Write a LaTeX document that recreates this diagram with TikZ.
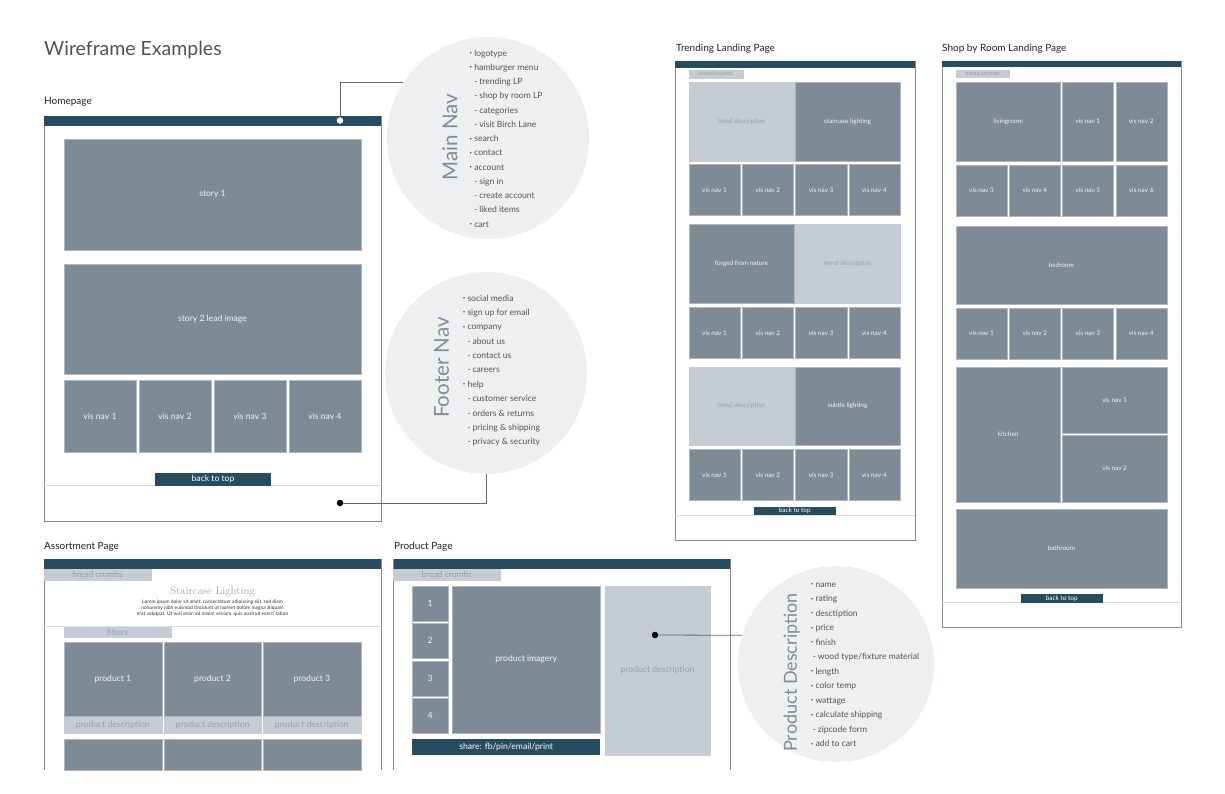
\documentclass[tikz,border=0pt]{standalone}
\usepackage{fontspec}
\setmainfont{Lato}
\usetikzlibrary{calc}
\definecolor{dark}{HTML}{274B5F}
\definecolor{boxc}{HTML}{7E8A96}
\definecolor{boxedge}{HTML}{AEB6BE}
\definecolor{lite}{HTML}{C5CCD3}
\definecolor{litetxt}{HTML}{959FA9}
\definecolor{frm}{HTML}{8A8A8A}
\definecolor{circ}{HTML}{EEEFF1}
\definecolor{navtxt}{HTML}{7F8B97}
\definecolor{listc}{HTML}{555555}
\definecolor{sepc}{HTML}{DADDE0}
\definecolor{labc}{HTML}{222222}
\newcommand\bx[7]{\node[#1, minimum width={#5-#3}, minimum height={#6-#4}] (#2) at ({(#3+#5)/2},{(#4+#6)/2}) {#7};}
\newcommand\bu{\makebox[4.6pt][l]{\raisebox{1.5pt}{\scalebox{0.5}{•}}}}
\newcommand\sd{\makebox[5pt][l]{-}}
\tikzset{
  frame/.style={draw=frm, line width=0.9pt},
  dbox/.style={fill=boxc, draw=boxedge, line width=0.4pt, inner sep=0pt, text=white!90!boxc, font=\fontsize{8.6}{10}\selectfont},
  lbox/.style={fill=lite, draw=lite, line width=0.4pt, inner sep=0pt, text=litetxt, font=\fontsize{8.6}{10}\selectfont},
  btn/.style={fill=dark, inner sep=0pt, text=white, font=\fontsize{8.6}{10}\selectfont},
  sm/.style={font=\fontsize{6.4}{7}\selectfont},
  crumb/.style={lbox, font=\fontsize{8.4}{9}\selectfont},
  crumbsm/.style={lbox, font=\fontsize{5.8}{6}\selectfont},
  sepline/.style={draw=sepc, line width=0.8pt},
  pagelabel/.style={anchor=base west, inner sep=0pt, text=labc, font=\fontsize{10}{12}\selectfont},
  bubble/.style={circle, fill=circ, inner sep=0pt},
  bubbletitle/.style={rotate=90, text=navtxt, inner sep=0pt},
  listt/.style={anchor=base west, inner sep=0pt, text=listc, font=\fontsize{8.6}{10}\selectfont},
  conn/.style={draw=black!60, line width=0.8pt},
  dotb/.style={circle, fill=black, inner sep=0pt, minimum size=6.5pt},
  dotw/.style={circle, fill=white, inner sep=0pt, minimum size=6.5pt},
  lorem/.style={inner sep=0pt, text=black!80, font=\fontsize{4.9}{5.5}\selectfont},
}
\begin{document}
\begin{tikzpicture}[x=1pt,y=-1pt]
\useasboundingbox (0,0) rectangle (1225,793);
\fill[white] (0,0) rectangle (1225,793);

% title
\node[anchor=base west, inner sep=0pt, text=black!68, font=\fontsize{19.5}{22}\selectfont] (title) at (44,55) {Wireframe Examples};

% ================= bubbles
\node[bubble, minimum size=202pt] (mainnav) at (488,138) {};
\node[bubble, minimum size=202pt] (footnav) at (486,373) {};
\node[bubble, minimum size=196pt] (pdcirc) at (836,664) {};

\node[bubbletitle, font=\fontsize{20.5}{22}\selectfont] (mntitle) at (450,137) {Main Nav};
\node[bubbletitle, font=\fontsize{20.5}{22}\selectfont] (fntitle) at (441.7,367.5) {Footer Nav};
\node[bubbletitle, font=\fontsize{18}{20}\selectfont] (pdtitle) at (791.7,672.5) {Product Description};

\foreach \k/\t [count=\i from 0] in {0/logotype, 0/hamburger menu, 1/trending LP, 1/shop by room LP, 1/categories, 1/visit Birch Lane, 0/search, 0/contact, 0/account, 1/sign in, 1/create account, 1/liked items, 0/cart}
  \node[listt] (mn\i) at ({469.5+4.6*\k}, {56.1+14.25*\i}) {\ifnum\k=0 \bu\else\sd\fi\t};

\foreach \k/\t [count=\i from 0] in {0/social media, 0/sign up for email, 0/company, 1/about us, 1/contact us, 1/careers, 0/help, 1/customer service, 1/orders \& returns, 1/pricing \& shipping, 1/privacy \& security}
  \node[listt] (fn\i) at ({462.7+4.6*\k}, {301.1+14.37*\i}) {\ifnum\k=0 \bu\else\sd\fi\t};

\foreach \k/\t [count=\i from 0] in {0/name, 0/rating, 0/desctiption, 0/price, 0/finish, 1/{wood type/fixture material}, 0/length, 0/color temp, 0/wattage, 0/calculate shipping, 1/zipcode form, 0/add to cart}
  \node[listt] (pd\i) at ({810.7+2*\k}, {587.1+14.52*\i}) {\ifnum\k=0 \bu\else\sd\fi\t};

% ================= Homepage
\node[pagelabel] (hplabel) at (44,104.5) {Homepage};
\draw[frame] (44,116) rectangle (381,521);
\fill[dark] (44,116) rectangle (381,125.5);
\bx{dbox}{story1}{64}{139}{361}{250}{story 1}
\bx{dbox}{story2}{64}{264}{361}{374}{story 2 lead image}
\bx{dbox}{hv1}{64}{380}{136}{452}{vis nav 1}
\bx{dbox}{hv2}{139}{380}{211}{452}{vis nav 2}
\bx{dbox}{hv3}{214}{380}{286}{452}{vis nav 3}
\bx{dbox}{hv4}{289}{380}{361}{452}{vis nav 4}
\draw[sepline] (44,485.5) -- (381,485.5);
\bx{btn}{hbtt}{155}{473}{271}{485.5}{back to top}
\node[dotw] (hdot) at (340,120.5) {};
\node[dotb] (fdot) at (340,503) {};

% connectors
\draw[conn] (hdot.north) |- (mainnav.147);
\draw[conn] (fdot.east) -| (footnav.south);

% ================= Trending Landing Page
\node[pagelabel] (tlabel) at (676,51) {Trending Landing Page};
\draw[frame] (675,61) rectangle (915,540);
\fill[dark] (675,61) rectangle (915,67.5);
\bx{crumbsm}{tcrumb}{689}{70}{742.7}{77.7}{bread crumbs}
\bx{lbox,sm}{t1a}{689}{82.3}{794}{160.7}{trend description}
\bx{dbox,sm}{t1b}{795.5}{82.3}{899.7}{160.7}{staircase lighting}
\foreach \ya/\yb/\r in {164.3/215.3/2, 307.3/358.3/4, 449.3/500.3/6}{
  \bx{dbox,sm}{t\r a}{689}{\ya}{740}{\yb}{vis nav 1}
  \bx{dbox,sm}{t\r b}{742.3}{\ya}{793.3}{\yb}{vis nav 2}
  \bx{dbox,sm}{t\r c}{795.5}{\ya}{846.7}{\yb}{vis nav 3}
  \bx{dbox,sm}{t\r d}{848.7}{\ya}{899.7}{\yb}{vis nav 4}
}
\bx{dbox,sm}{t3a}{689}{224}{794}{302.7}{forged from nature}
\bx{lbox,sm}{t3b}{795.5}{224}{899.7}{302.7}{trend description}
\bx{lbox,sm}{t5a}{689}{367.3}{794}{445}{trend description}
\bx{dbox,sm}{t5b}{795.5}{367.3}{899.7}{445}{subtle lighting}
\draw[sepline] (675,515) -- (915,515);
\bx{btn,sm}{tbtt}{753.7}{506.7}{835.7}{515}{back to top}

% ================= Shop by Room Landing Page
\node[pagelabel] (slabel) at (942,51) {Shop by Room Landing Page};
\draw[frame] (942,61) rectangle (1181,627.7);
\fill[dark] (942,61) rectangle (1181,67.3);
\bx{crumbsm}{scrumb}{956}{70}{1009.3}{77.3}{bread crumbs}
\bx{dbox,sm}{s1a}{956}{82.3}{1060.3}{160.7}{livingroom}
\bx{dbox,sm}{s1b}{1062.5}{82.3}{1113.3}{160.7}{vis nav 1}
\bx{dbox,sm}{s1c}{1115.7}{82.3}{1166.7}{160.7}{vis nav 2}
\bx{dbox,sm}{s2a}{956}{165}{1007}{216}{vis nav 3}
\bx{dbox,sm}{s2b}{1009.3}{165}{1060.3}{216}{vis nav 4}
\bx{dbox,sm}{s2c}{1062.5}{165}{1113.3}{216}{vis nav 5}
\bx{dbox,sm}{s2d}{1115.7}{165}{1166.7}{216}{vis nav 6}
\bx{dbox,sm}{s3}{956}{225.7}{1166.7}{304}{bedroom}
\bx{dbox,sm}{s4a}{956}{308}{1007}{359.3}{vis nav 1}
\bx{dbox,sm}{s4b}{1009.3}{308}{1060.3}{359.3}{vis nav 2}
\bx{dbox,sm}{s4c}{1062.5}{308}{1113.3}{359.3}{vis nav 3}
\bx{dbox,sm}{s4d}{1115.7}{308}{1166.7}{359.3}{vis nav 4}
\bx{dbox,sm}{s5a}{956}{367.3}{1060.3}{501.7}{kitchen}
\bx{dbox,sm}{s5b}{1062.5}{367.3}{1166.7}{433.3}{vis nav 1}
\bx{dbox,sm}{s5c}{1062.5}{435.5}{1166.7}{501.7}{vis nav 2}
\bx{dbox,sm}{s6}{956}{509.3}{1166.7}{587.7}{bathroom}
\draw[sepline] (942,602.7) -- (1181,602.7);
\bx{btn,sm}{sbtt}{1020.7}{594}{1102.7}{602.7}{back to top}

% ================= Assortment Page
\node[pagelabel] (alabel) at (44,549.5) {Assortment Page};
\draw[frame] (44,559.3) -- (44,770);
\draw[frame] (381,559.3) -- (381,770);
\fill[dark] (44,559.3) rectangle (381,568.7);
\bx{crumb}{acrumb}{44}{569.3}{150.7}{580}{bread crumbs}
\node[inner sep=0pt, text=black!35, font=\fontfamily{lmr}\fontsize{11}{12}\selectfont] (atitle) at (212.5,591.5) {Staircase Lighting};
\node[lorem] (alorem1) at (212.5,601.7) {Lorem ipsum dolor sit amet, consectetuer adipiscing elit, sed diam};
\node[lorem] (alorem2) at (212.5,608) {nonummy nibh euismod tincidunt ut laoreet dolore magna aliquam};
\node[lorem] (alorem3) at (212.5,614.5) {erat volutpat. Ut wisi enim ad minim veniam, quis nostrud exerci tation};
\draw[sepline] (44,626.7) -- (381,626.7);
\bx{crumb}{afilter}{64}{627.3}{171}{637}{filters}
\foreach \xa/\xb/\n in {64/161.7/1, 164/261/2, 263/360.7/3}{
  \bx{dbox}{ap\n}{\xa}{642.3}{\xb}{716}{product \n}
  \bx{lbox}{ad\n}{\xa}{716.7}{\xb}{732.7}{product description}
  \bx{dbox}{aq\n}{\xa}{739}{\xb}{770}{}
}

% ================= Product Page
\node[pagelabel] (plabel) at (394,549.5) {Product Page};
\draw[frame] (393.5,559.3) -- (393.5,770);
\draw[frame] (730,559.3) -- (730,770);
\fill[dark] (393.5,559.3) rectangle (730,568.7);
\bx{crumb}{pcrumb}{393.5}{569.3}{500}{580}{bread crumbs}
\bx{dbox}{pt1}{412.3}{585.7}{448}{620.7}{1}
\bx{dbox}{pt2}{412.3}{623.3}{448}{658.3}{2}
\bx{dbox}{pt3}{412.3}{660.7}{448}{695.7}{3}
\bx{dbox}{pt4}{412.3}{698.3}{448}{733.3}{4}
\bx{dbox}{pimg}{452.3}{585.7}{600}{733.3}{product imagery}
\bx{btn}{pshare}{412.3}{739}{600}{755.3}{share: fb/pin/email/print}
\bx{lbox}{pdesc}{605}{585.7}{710}{755.3}{product description}
\node[dotb] (pdot) at (655,635) {};
\draw[conn] (pdot.east) -- (pdcirc.163);

\end{tikzpicture}
\end{document}
